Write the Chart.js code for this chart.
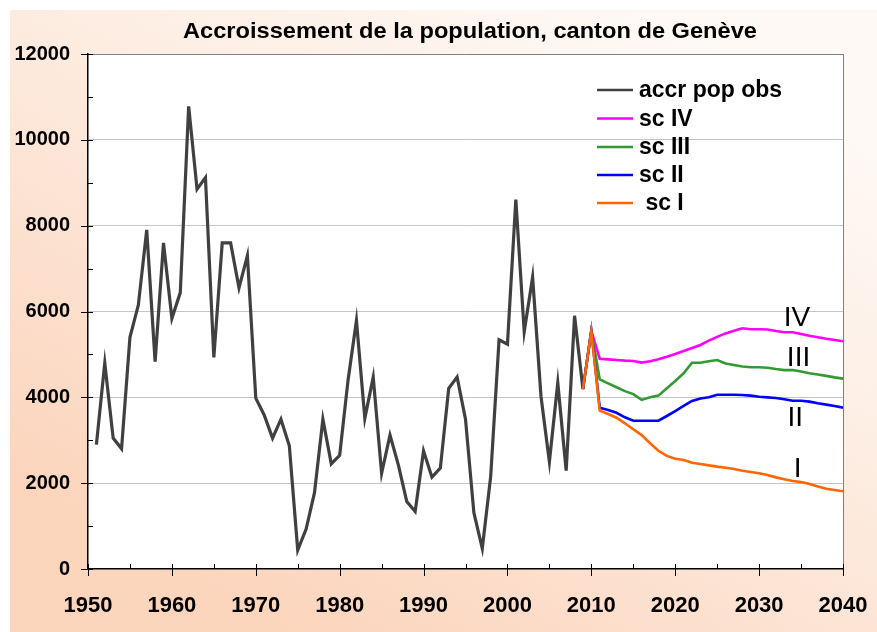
<!DOCTYPE html>
<html>
<head>
<meta charset="utf-8">
<title>Accroissement de la population, canton de Genève</title>
<script src="https://cdn.jsdelivr.net/npm/chart.js"></script>
<style>
  html, body { margin: 0; padding: 0; background: #fff; }
  canvas { display: block; }
</style>
</head>
<body>
<canvas id="chart" width="877" height="632"></canvas>
<script>
const TITLE = 'Accroissement de la population, canton de Genève';

// observed growth, 1951..2009
const obsStart = 1951;
const obsValues = [
  2900, 4800, 3050, 2800, 5400, 6150, 7900, 4830, 7600, 5840,
  6440, 10780, 8850, 9120, 4930, 7600, 7600, 6550, 7300, 3980,
  3590, 3050, 3490, 2870, 440, 930, 1780, 3490, 2450, 2650,
  4400, 5790, 3510, 4470, 2230, 3120, 2420, 1570, 1340, 2750,
  2140, 2350, 4210, 4470, 3490, 1310, 480, 2150, 5340, 5240,
  8610, 5530, 6800, 4020, 2500, 4340, 2290, 5900, 4190
];

// scenarios, 2009..2040
const scStart = 2009;
const sc4 = [
  4190, 5550, 4900, 4885, 4870, 4855, 4845, 4810, 4840, 4885,
  4945, 5010, 5080, 5150, 5220, 5320, 5410, 5490, 5550, 5610,
  5585, 5585, 5580, 5545, 5515, 5515, 5475, 5435, 5400, 5365,
  5335, 5305
];
const sc3 = [
  4190, 5550, 4420, 4325, 4235, 4145, 4075, 3940, 4000, 4040,
  4210, 4380, 4560, 4805, 4805, 4840, 4870, 4790, 4755, 4720,
  4700, 4700, 4690, 4660, 4635, 4635, 4600, 4560, 4530, 4500,
  4465, 4435
];
const sc2 = [
  4190, 5550, 3760, 3705, 3640, 3535, 3455, 3455, 3455, 3455,
  3565, 3680, 3800, 3915, 3975, 4000, 4060, 4060, 4060, 4055,
  4040, 4015, 4000, 3985, 3955, 3920, 3920, 3900, 3860, 3830,
  3800, 3760
];
const sc1 = [
  4190, 5550, 3690, 3610, 3525, 3395, 3255, 3120, 2930, 2755,
  2635, 2570, 2540, 2475, 2445, 2415, 2385, 2360, 2330, 2290,
  2260, 2230, 2190, 2135, 2090, 2050, 2025, 1980, 1920, 1870,
  1840, 1810
];

const seriesLabels = ['accr pop obs', 'sc IV', 'sc III', 'sc II', ' sc I'];
const seriesColors = ['#404040', '#ff00ff', '#339933', '#0000ff', '#ff6600'];

// roman labels next to the scenario curves
const tagNames = ['IV', 'III', 'II', 'I'];
const tagYears = [2034.5, 2034.7, 2034.3, 2034.6];
const tagValues = [5870, 4930, 3540, 2350];

const yTicks = { min: 0, max: 12000, step: 2000 };
const xTicks = { min: 1950, max: 2040, step: 10 };

const FONT = "'Liberation Sans', Arial, sans-serif";

function toPoints(start, values) {
  return values.map((v, i) => ({ x: start + i, y: v }));
}

const bgPlugin = {
  id: 'bg',
  beforeDraw(chart) {
    const ctx = chart.ctx;
    const a = chart.chartArea;
    ctx.save();
    const g = ctx.createLinearGradient(650, 10, 300, 632);
    g.addColorStop(0, '#fef9f5');
    g.addColorStop(0.35, '#fdefe5');
    g.addColorStop(1, '#fcd5bd');
    ctx.fillStyle = g;
    ctx.fillRect(10, 10, chart.width - 10, chart.height - 10);
    ctx.fillStyle = '#ffffff';
    ctx.fillRect(a.left, a.top, a.right - a.left, a.bottom - a.top);

    // title
    ctx.font = 'bold 22px ' + FONT;
    ctx.fillStyle = '#000';
    ctx.textAlign = 'center';
    ctx.textBaseline = 'alphabetic';
    const w = ctx.measureText(TITLE).width;
    const sx = 574 / w;
    ctx.translate(470, 38);
    ctx.scale(sx, 1);
    ctx.fillText(TITLE, 0, 0);
    ctx.restore();
  }
};

const decoPlugin = {
  id: 'deco',
  afterDraw(chart) {
    const ctx = chart.ctx;
    const xs = chart.scales.x, ys = chart.scales.y;
    const a = chart.chartArea;
    ctx.save();
    ctx.strokeStyle = '#000';
    ctx.lineWidth = 1;
    ctx.beginPath();
    // y ticks: major every 2000 cross the axis, minor every 1000 inside
    for (let v = yTicks.min; v <= yTicks.max; v += 1000) {
      const y = Math.round(ys.getPixelForValue(v)) + 0.5;
      const major = v % 2000 === 0;
      ctx.moveTo(major ? a.left - 7 : a.left, y);
      ctx.lineTo(a.left + 5, y);
    }
    // x ticks: major every 10 cross the axis, minor every 5 inside
    for (let v = xTicks.min; v <= xTicks.max; v += 5) {
      const x = Math.round(xs.getPixelForValue(v)) + 0.5;
      const major = v % 10 === 0;
      ctx.moveTo(x, major ? a.bottom + 7 : a.bottom);
      ctx.lineTo(x, a.bottom - 5);
    }
    ctx.stroke();

    // legend
    const lx = 597, tx = 639;
    const rowY = [90, 118.5, 147, 175, 203];
    ctx.font = 'bold 23px ' + FONT;
    ctx.textAlign = 'left';
    ctx.textBaseline = 'middle';
    chart.data.datasets.forEach((ds, i) => {
      const y = rowY[i];
      ctx.strokeStyle = ds.borderColor;
      ctx.lineWidth = 2.5;
      ctx.beginPath();
      ctx.moveTo(lx, y);
      ctx.lineTo(lx + 36, y);
      ctx.stroke();
      ctx.fillStyle = '#000';
      ctx.fillText(ds.label, tx, y + 1);
    });

    // roman numerals near the curves
    ctx.font = '28px ' + FONT;
    ctx.textAlign = 'center';
    ctx.fillStyle = '#000';
    tagNames.forEach((t, i) => {
      ctx.fillText(t, xs.getPixelForValue(tagYears[i]), ys.getPixelForValue(tagValues[i]) + 1);
    });
    ctx.restore();
  }
};

const allSeries = [
  toPoints(obsStart, obsValues),
  toPoints(scStart, sc4),
  toPoints(scStart, sc3),
  toPoints(scStart, sc2),
  toPoints(scStart, sc1)
];

const datasets = allSeries.map((pts, i) => ({
  label: seriesLabels[i],
  data: pts,
  borderColor: seriesColors[i],
  backgroundColor: seriesColors[i],
  borderWidth: i === 0 ? 3.2 : 2.6,
  pointRadius: 0,
  tension: 0,
  order: 4 - i
}));

new Chart(document.getElementById('chart'), {
  type: 'line',
  data: { datasets },
  plugins: [bgPlugin, decoPlugin],
  options: {
    responsive: false,
    animation: false,
    layout: { padding: { top: 54, right: 34, left: 0, bottom: 0 } },
    plugins: {
      legend: { display: false },
      title: { display: false },
      tooltip: { enabled: false }
    },
    scales: {
      x: {
        type: 'linear',
        min: xTicks.min,
        max: xTicks.max,
        afterFit(scale) {
          scale.height = 63;
          scale.paddingLeft = 0;
          scale.paddingRight = 0;
        },
        ticks: {
          stepSize: xTicks.step,
          color: '#000',
          padding: 24,
          maxRotation: 0,
          font: { family: FONT, size: 22, weight: 'bold' },
          callback: v => String(v)
        },
        grid: {
          drawTicks: false,
          lineWidth: 1,
          color: c => (c.tick && c.tick.value === xTicks.max) ? '#808080' : 'rgba(0,0,0,0)'
        },
        border: { color: '#000', width: 1.5 }
      },
      y: {
        min: yTicks.min,
        max: yTicks.max,
        afterFit(scale) {
          scale.width = 88;
          scale.paddingTop = 0;
          scale.paddingBottom = 0;
        },
        ticks: {
          stepSize: yTicks.step,
          color: '#000',
          padding: 18,
          font: { family: FONT, size: 20, weight: 'bold' },
          callback: v => String(v)
        },
        grid: {
          drawTicks: false,
          lineWidth: 1,
          color: c => {
            if (!c.tick) return 'rgba(0,0,0,0)';
            if (c.tick.value === yTicks.min) return 'rgba(0,0,0,0)';
            if (c.tick.value === yTicks.max) return '#808080';
            return '#c4c4c4';
          }
        },
        border: { color: '#000', width: 1.5 }
      }
    }
  }
});
</script>
</body>
</html>
